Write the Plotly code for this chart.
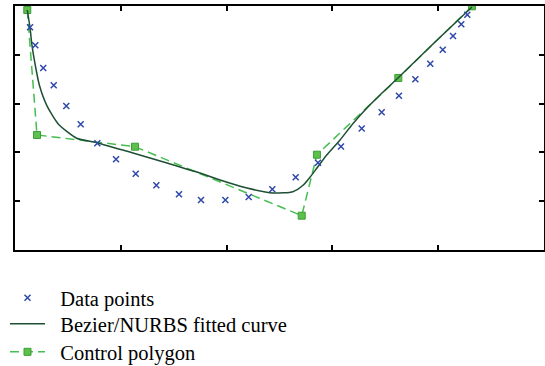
import plotly.graph_objects as go

# Data points (blue crosses)
data_x = [0.142, 0.192, 0.267, 0.366, 0.485, 0.621, 0.778, 0.955, 1.141, 1.336,
          1.550, 1.758, 1.988, 2.209, 2.432, 2.653, 2.864, 3.081, 3.277, 3.466,
          3.629, 3.784, 3.925, 4.043, 4.140, 4.218, 4.275]
data_y = [4.564, 4.195, 3.730, 3.375, 2.951, 2.576, 2.187, 1.859, 1.564, 1.326,
          1.141, 1.025, 1.025, 1.086, 1.244, 1.490, 1.789, 2.121, 2.490, 2.822,
          3.162, 3.498, 3.818, 4.105, 4.385, 4.625, 4.822]

# Fitted curve (sampled)
curve_x = [0.116, 0.142, 0.161, 0.196, 0.230, 0.300, 0.409, 0.583, 0.772, 1.115,
           1.437, 1.749, 1.938, 2.193, 2.439, 2.627, 2.725, 2.788, 2.852, 2.946,
           3.072, 3.197, 3.324, 3.450, 3.617, 3.970, 4.319]
curve_y = [4.918, 4.555, 4.186, 3.736, 3.381, 2.965, 2.582, 2.289, 2.199, 1.988,
           1.783, 1.578, 1.434, 1.270, 1.168, 1.195, 1.332, 1.490, 1.674, 1.947,
           2.254, 2.596, 2.904, 3.176, 3.518, 4.262, 4.980]

# Control polygon
ctrl_x = [0.116, 0.208, 1.134, 2.710, 2.854, 3.623, 4.319]
ctrl_y = [4.918, 2.357, 2.117, 0.703, 1.953, 3.525, 4.994]

names = ["Data points", "Bezier/NURBS fitted curve", "Control polygon"]
pad = "\u00a0\u00a0"

fig = go.Figure()
fig.add_trace(go.Scatter(
    x=ctrl_x, y=ctrl_y, mode="lines+markers", name=pad + names[2],
    line=dict(color="#46bd50", width=1.5, dash="9px,5px"),
    marker=dict(symbol="square", size=7, color="#5cc04a",
                line=dict(color="#3a9e3a", width=1)),
    legend="legend3"))
fig.add_trace(go.Scatter(
    x=curve_x, y=curve_y, mode="lines", name=pad + names[1],
    line=dict(color="#1d4f33", width=1.5, shape="spline", smoothing=0.6),
    legend="legend2"))
fig.add_trace(go.Scatter(
    x=data_x, y=data_y, mode="markers", name=pad + names[0],
    marker=dict(symbol="x-thin", size=6, color="#2f47aa",
                line=dict(color="#2f47aa", width=1.5)),
    legend="legend"))

axis_common = dict(showline=True, mirror="allticks", linecolor="black", linewidth=2,
                   ticks="inside", ticklen=5, tickwidth=1.5, tickcolor="black",
                   showticklabels=False, showgrid=False, zeroline=False,
                   dtick=1, tick0=0)
fig.update_xaxes(range=[0, 5], **axis_common)
fig.update_yaxes(range=[0, 5], **axis_common)

leg_font = dict(family="Liberation Serif", size=20.5, color="black")
def leg(ypx):
    return dict(x=5 / 545, y=1 - ypx / 366, xref="container", yref="container",
                xanchor="left", yanchor="middle", bgcolor="rgba(0,0,0,0)",
                itemwidth=35, font=leg_font)

fig.update_layout(
    width=545, height=366,
    margin=dict(l=15, r=1, t=6, b=116, autoexpand=False),
    plot_bgcolor="white", paper_bgcolor="white",
    font=dict(family="Liberation Serif", size=20, color="black"),
    showlegend=True,
    legend=leg(298), legend2=leg(324), legend3=leg(352),
)

fig.write_html("out.html")
